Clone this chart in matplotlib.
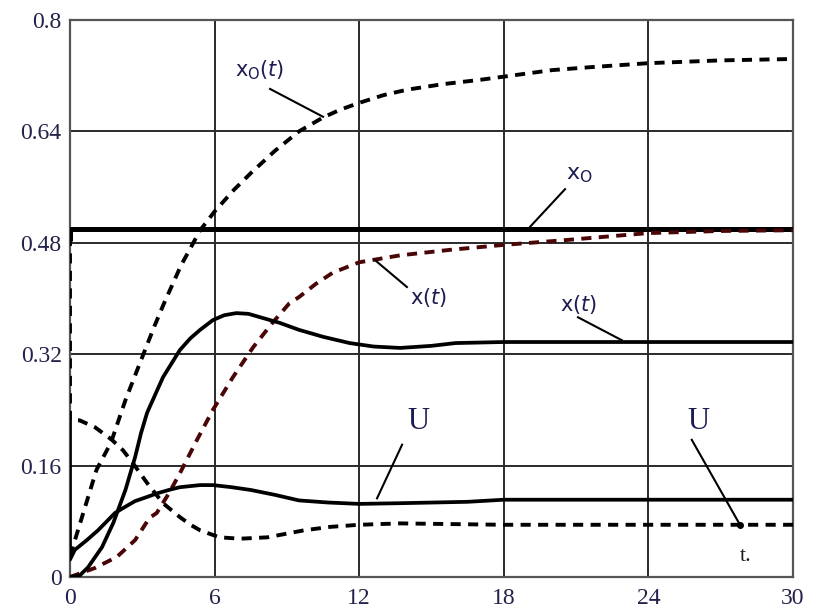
import matplotlib
matplotlib.use("Agg")
import matplotlib.pyplot as plt

# ---- data ----
t_x0t = [0, 0.33, 0.55, 1.1, 1.7, 2.3, 3.0, 3.5, 3.9, 4.6, 5.4, 6.0, 6.8, 7.5, 8.5, 9.5, 10.5, 11.2, 12, 13, 14, 15.5, 17, 18.5, 20, 21.5, 24, 27, 30]
v_x0t = [0.03, 0.067, 0.092, 0.154, 0.193, 0.254, 0.316, 0.36, 0.393, 0.447, 0.498, 0.525, 0.556, 0.58, 0.612, 0.64, 0.66, 0.671, 0.681, 0.692, 0.70, 0.708, 0.714, 0.721, 0.728, 0.732, 0.738, 0.742, 0.744]

t_x0 = [0, 0, 30]
v_x0 = [0.482, 0.5, 0.5]

t_xt_d = [0, 1.04, 1.95, 2.7, 3.3, 3.6, 4.1, 4.56, 5.27, 5.93, 6.76, 7.6, 8.4, 9.1, 9.5, 10.2, 10.9, 12, 13.7, 15.8, 18, 20.6, 24, 27, 30]
v_xt_d = [0.0, 0.013, 0.029, 0.053, 0.085, 0.092, 0.12, 0.149, 0.197, 0.24, 0.287, 0.33, 0.365, 0.393, 0.402, 0.421, 0.437, 0.452, 0.462, 0.47, 0.477, 0.484, 0.494, 0.497, 0.498]

t_xt_s = [0, 0.4, 0.75, 1.33, 1.8, 2.3, 2.7, 2.95, 3.2, 3.86, 4.56, 5.0, 5.4, 5.93, 6.4, 6.9, 7.4, 7.9, 8.7, 9.5, 10.5, 11.6, 12.6, 13.7, 15, 16, 18, 30]
v_xt_s = [0.0, 0.002, 0.014, 0.043, 0.078, 0.125, 0.172, 0.207, 0.236, 0.287, 0.326, 0.343, 0.355, 0.369, 0.376, 0.379, 0.378, 0.373, 0.365, 0.355, 0.345, 0.336, 0.331, 0.329, 0.332, 0.336, 0.3375, 0.3375]

t_u_s = [0, 0, 0.2, 0.7, 1.16, 1.87, 2.3, 2.7, 3.2, 3.6, 4.1, 4.56, 5.4, 5.93, 6.7, 7.5, 8.5, 9.5, 10.7, 12, 13.7, 16.5, 18, 30]
v_u_s = [0.225, 0.025, 0.039, 0.053, 0.067, 0.092, 0.101, 0.109, 0.115, 0.12, 0.125, 0.129, 0.132, 0.132, 0.129, 0.125, 0.118, 0.11, 0.107, 0.105, 0.106, 0.108, 0.111, 0.111]

t_u_d = [0, 0, 0.4, 1.04, 1.74, 2.2, 2.6, 3.2, 3.86, 4.56, 5.0, 5.4, 6.2, 7.05, 8.2, 9.1, 9.7, 10.8, 12, 13.7, 18, 30]
v_u_d = [0.49, 0.225, 0.225, 0.215, 0.197, 0.182, 0.164, 0.135, 0.106, 0.086, 0.075, 0.067, 0.057, 0.055, 0.057, 0.063, 0.067, 0.072, 0.075, 0.077, 0.075, 0.075]

x_ticks = [0, 6, 12, 18, 24, 30]
x_tick_labels = ["0", "6", "12", "18", "24", "30"]
y_ticks = [0, 0.16, 0.32, 0.48, 0.64, 0.8]
y_tick_labels = ["0", "0.16", "0.32", "0.48", "0.64", "0.8"]

# ---- figure ----
fig = plt.figure(figsize=(8.19, 6.14), dpi=100)
ax = fig.add_axes([70/819, 1-577/614, (793-70)/819, (577-20)/614])
ax.set_xlim(0, 30)
ax.set_ylim(0, 0.8)

ax.set_xticks(x_ticks)
ax.set_xticklabels(x_tick_labels)
ax.set_yticks(y_ticks)
ax.set_yticklabels(y_tick_labels)
tick_col = "#22224a"
ax.tick_params(length=0, labelsize=17, labelcolor=tick_col)
ax.tick_params(axis="x", pad=8)
ax.tick_params(axis="y", pad=6)
for lab in ax.get_xticklabels() + ax.get_yticklabels():
    lab.set_fontfamily("Liberation Serif")
ax.grid(True, color="#2a2a2a", linewidth=1.4)
ax.set_axisbelow(True)
for sp in ax.spines.values():
    sp.set_color("#555555")
    sp.set_linewidth(1.6)

dash = (2.6, 1.9)
ax.plot(t_x0t, v_x0t, color="black", lw=2.8, linestyle=(0, dash), zorder=3)
ax.plot(t_x0, v_x0, color="black", lw=3.6, zorder=3, solid_capstyle="butt")
ax.plot(t_xt_d, v_xt_d, color="#4a0606", lw=2.8, linestyle=(0, dash), zorder=3)
ax.plot(t_xt_s, v_xt_s, color="black", lw=2.7, zorder=3)
ax.plot(t_u_s, v_u_s, color="black", lw=2.7, zorder=3)
ax.plot(t_u_d, v_u_d, color="black", lw=2.8, linestyle=(0, dash), zorder=3)

# ---- annotations ----
lab_col = "#1c1c50"
def leader(p0, p1, dot=False):
    ax.plot([p0[0], p1[0]], [p0[1], p1[1]], color="black", lw=1.5, zorder=4)
    if dot:
        ax.plot([p1[0]], [p1[1]], "o", color="black", ms=4, zorder=4)

ax.text(6.85, 0.728, r"$\mathsf{x}_{\mathsf{O}}\mathit{(t)}$", fontsize=15, color=lab_col,
        va="center", ha="left")
leader((8.3, 0.701), (10.5, 0.661))

ax.text(20.6, 0.577, r"$\mathsf{x}_{\mathsf{O}}$", fontsize=16, color=lab_col, va="center", ha="left")
leader((20.54, 0.557), (19.09, 0.503))

ax.text(14.1, 0.402, r"$\mathsf{x}\mathit{(t)}$", fontsize=15, color=lab_col, va="center", ha="left")
leader((13.98, 0.4165), (12.66, 0.455))

ax.text(20.33, 0.391, r"$\mathsf{x}\mathit{(t)}$", fontsize=15, color=lab_col, va="center", ha="left")
leader((21.08, 0.373), (22.9, 0.340))

ax.text(14.0, 0.223, "U", fontsize=22, family="Liberation Serif", color=lab_col, va="center", ha="left")
leader((13.78, 0.19), (12.74, 0.113))

ax.text(25.6, 0.223, "U", fontsize=22, family="Liberation Serif", color=lab_col, va="center", ha="left")
leader((25.8, 0.197), (27.8, 0.075), dot=True)

ax.text(27.8, 0.029, "t.", fontsize=16, family="Liberation Serif", color="#1a1a1a", va="center", ha="left")

fig.savefig("out.png", dpi=100)
